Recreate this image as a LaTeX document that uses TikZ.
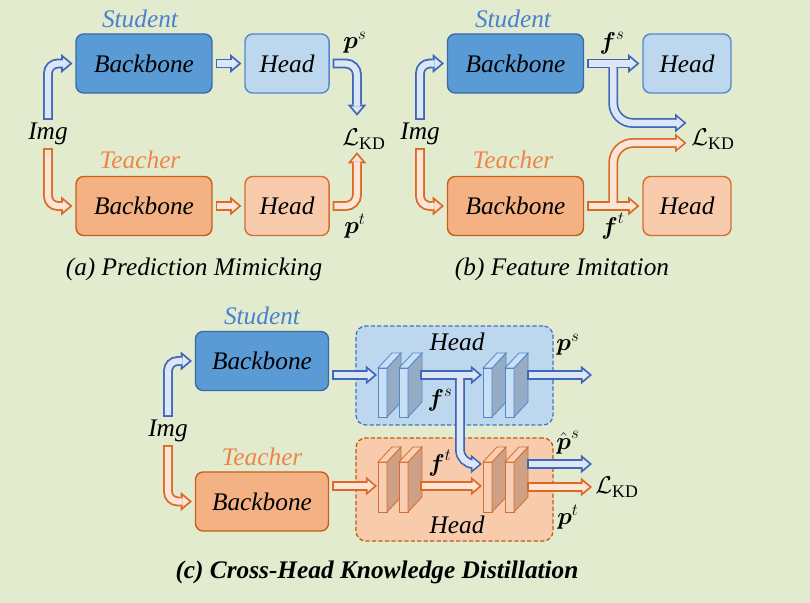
\documentclass[tikz,border=0pt]{standalone}
\usepackage{amsmath}
\usepackage{fontspec}
\setmainfont{Liberation Serif}
\usetikzlibrary{arrows.meta,calc,positioning}

\definecolor{bgcol}{RGB}{226,235,206}
\definecolor{sdark}{RGB}{91,155,213}
\definecolor{sdarkline}{RGB}{58,106,168}
\definecolor{slight}{RGB}{189,215,238}
\definecolor{slightline}{RGB}{84,136,204}
\definecolor{stext}{RGB}{74,128,208}
\definecolor{sarrline}{RGB}{62,104,186}
\definecolor{sarrfill}{RGB}{220,230,246}
\definecolor{sfront}{RGB}{200,224,245}
\definecolor{sside}{RGB}{150,172,196}
\definecolor{sdash}{RGB}{68,114,196}
\definecolor{tdark}{RGB}{244,177,131}
\definecolor{tdarkline}{RGB}{200,94,26}
\definecolor{tlight}{RGB}{248,203,173}
\definecolor{tlightline}{RGB}{214,110,45}
\definecolor{ttext}{RGB}{240,132,72}
\definecolor{tarrline}{RGB}{218,106,38}
\definecolor{tarrfill}{RGB}{252,229,214}
\definecolor{tfront}{RGB}{250,206,178}
\definecolor{tside}{RGB}{206,160,134}
\definecolor{tdash}{RGB}{197,90,17}

\begin{document}
\begin{tikzpicture}[x=0.025cm,y=-0.025cm,
    font=\fontsize{18}{21}\selectfont\itshape,
    every node/.style={inner sep=2pt},
    box/.style={rounded corners=5.5pt,line width=1pt,outer sep=2.5pt,minimum height=42pt},
    sbb/.style={box,fill=sdark,draw=sdarkline,minimum width=96.7pt},
    shd/.style={box,fill=slight,draw=slightline,minimum width=59.8pt},
    tbb/.style={box,fill=tdark,draw=tdarkline,minimum width=96.7pt},
    thd/.style={box,fill=tlight,draw=tlightline,minimum width=59.8pt},
    hbox/.style={rounded corners=7pt,line width=0.9pt,dash pattern=on 3pt off 1.6pt,minimum width=140.1pt},
    sname/.style={text=stext},
    tname/.style={text=ttext},
    sinner/.style={draw=sarrfill,line width=4.4pt,shorten >=2pt,shorten <=1.3pt,
        -{Triangle[length=4.7pt,width=7.9pt,line width=0pt]}},
    sarrow/.style={preaction={draw=sarrline,line width=7pt,shorten >=0pt,shorten <=0pt,
        -{Triangle[length=8pt,width=13.5pt,line width=0pt]}},sinner},
    tinner/.style={draw=tarrfill,line width=4.4pt,shorten >=2pt,shorten <=1.3pt,
        -{Triangle[length=4.7pt,width=7.9pt,line width=0pt]}},
    tarrow/.style={preaction={draw=tarrline,line width=7pt,shorten >=0pt,shorten <=0pt,
        -{Triangle[length=8pt,width=13.5pt,line width=0pt]}},tinner}]

    \fill[bgcol] (0,0) rectangle (810,603);
    \useasboundingbox (0,0) rectangle (810,603);

    % (a) prediction mimicking
    \node[sname] (stuA) at (140,19) {Student};
    \node[tname] (teaA) at (140,160) {Teacher};
    \node[sbb] (sbbA) at (144,63.5) {Backbone};
    \node[shd] (shdA) at (287,63.5) {Head};
    \node[tbb] (tbbA) at (144,206) {Backbone};
    \node[thd] (thdA) at (287,206) {Head};
    \node (imgA) at (48,134) {Img};
    \node (kdA) at (364,139) {$\mathcal{L}_{\mathrm{KD}}$};
    \node (psA) at (355,43) {$\boldsymbol{p}^{s}$};
    \node (ptA) at (355,226) {$\boldsymbol{p}^{t}$};
    \node (capA) at (194,269) {(a) Prediction Mimicking};

    \draw[sarrow,rounded corners=7pt] (imgA.north) |- (sbbA.west);
    \draw[tarrow,rounded corners=7pt] (imgA.south) |- (tbbA.west);
    \draw[sarrow] (sbbA) -- (shdA);
    \draw[tarrow] (tbbA) -- (thdA);
    \draw[sarrow,rounded corners=8pt] (shdA.east) -| ($(kdA.north)+(-7,-10)$);
    \draw[tarrow,rounded corners=8pt] (thdA.east) -| ($(kdA.south)+(-7,0)$);

    % (b) feature imitation
    \node[sname] (stuB) at (513,19) {Student};
    \node[tname] (teaB) at (513,160) {Teacher};
    \node[sbb] (sbbB) at (515.5,63.5) {Backbone};
    \node[shd,minimum width=62.6pt] (shdB) at (687,63.5) {Head};
    \node[tbb] (tbbB) at (515.5,206) {Backbone};
    \node[thd,minimum width=62.6pt] (thdB) at (687,206) {Head};
    \node (imgB) at (420,134) {Img};
    \node (kdB) at (713,139) {$\mathcal{L}_{\mathrm{KD}}$};
    \node (fsB) at (612,43) {$\boldsymbol{f}^{s}$};
    \node (ftB) at (613,226) {$\boldsymbol{f}^{t}$};
    \node (capB) at (562,269) {(b) Feature Imitation};
    \coordinate (brsB) at ($(sbbB.east)!0.5!(shdB.west)$);
    \coordinate (brtB) at ($(tbbB.east)!0.5!(thdB.west)$);

    \draw[sarrow,rounded corners=7pt] (imgB.north) |- (sbbB.west);
    \draw[tarrow,rounded corners=7pt] (imgB.south) |- (tbbB.west);
    \draw[sarrow,rounded corners=14pt] (brsB) |- ($(kdB.west)+(-2,-16)$);
    \draw[sarrow] (sbbB) -- (shdB);
    \draw[sinner,rounded corners=14pt] (brsB) |- ($(kdB.west)+(-2,-16)$);
    \draw[tarrow,rounded corners=14pt] (brtB) |- ($(kdB.west)+(-2,4)$);
    \draw[tarrow] (tbbB) -- (thdB);
    \draw[tinner,rounded corners=14pt] (brtB) |- ($(kdB.west)+(-2,4)$);

    % (c) cross-head knowledge distillation
    \node[sname] (stuC) at (262,316) {Student};
    \node[tname] (teaC) at (262,457) {Teacher};
    \node[sbb,minimum width=94.6pt] (sbbC) at (262,361) {Backbone};
    \node[tbb,minimum width=94.6pt] (tbbC) at (262,501.5) {Backbone};
    \node (imgC) at (168,431) {Img};
    \node[hbox,fill=slight,draw=sdash,minimum height=70.4pt] (shC) at (454.5,375.5) {};
    \node[hbox,fill=tlight,draw=tdash,minimum height=73.3pt] (thC) at (454.5,489.5) {};
    \node (hdsC) at (457,342) {Head};
    \node (hdtC) at (457,525) {Head};

    \foreach \a in {378,399,483,505}{
        \filldraw[draw=slightline,fill=sfront,line width=0.6pt] (\a,368) rectangle ++(9,49);
        \filldraw[draw=slightline,fill=sside,line width=0.6pt] (\a+9,368) -- ++(14,-15) -- ++(0,49) -- ++(-14,15) -- cycle;
        \filldraw[draw=slightline,fill=sfront,line width=0.6pt] (\a,368) -- ++(14,-15) -- ++(9,0) -- ++(-14,15) -- cycle;
    }
    \foreach \a in {378,399,483,505}{
        \filldraw[draw=tlightline,fill=tfront,line width=0.6pt] (\a,462) rectangle ++(9,50);
        \filldraw[draw=tlightline,fill=tside,line width=0.6pt] (\a+9,462) -- ++(14,-15) -- ++(0,50) -- ++(-14,15) -- cycle;
        \filldraw[draw=tlightline,fill=tfront,line width=0.6pt] (\a,462) -- ++(14,-15) -- ++(9,0) -- ++(-14,15) -- cycle;
    }

    \coordinate (s1) at (377,375);
    \coordinate (s2) at (420,375);
    \coordinate (s3) at (482,375);
    \coordinate (s4) at (527,375);
    \coordinate (sO) at (592,375);
    \coordinate (brsC) at (460,375);
    \coordinate (s3b) at (482,464);
    \coordinate (s4b) at (527,464);
    \coordinate (sOb) at (592,464);
    \coordinate (t1) at (377,486);
    \coordinate (t2) at (420,486);
    \coordinate (t3) at (482,486);
    \coordinate (t4) at (527,487);
    \coordinate (tO) at (592,487);

    \draw[sarrow,rounded corners=7pt] (imgC.north) |- (sbbC.west);
    \draw[tarrow,rounded corners=7pt] (imgC.south) |- (tbbC.west);
    \draw[sarrow] (sbbC.east |- s1) -- (s1);
    \draw[tarrow] (tbbC.east |- t1) -- (t1);
    \draw[tarrow] (t2) -- (t3);
    \draw[sarrow,rounded corners=10pt] (brsC) |- (s3b);
    \draw[sarrow] (s2) -- (s3);
    \draw[sinner,rounded corners=10pt] (brsC) |- (s3b);
    \draw[sarrow] (s4) -- (sO);
    \draw[sarrow] (s4b) -- (sOb);
    \draw[tarrow] (t4) -- (tO);

    \node (fsC) at (440,400) {$\boldsymbol{f}^{s}$};
    \node (ftC) at (440,463) {$\boldsymbol{f}^{t}$};
    \node (psC) at (568,345) {$\boldsymbol{p}^{s}$};
    \node (phC) at (568,443) {$\hat{\boldsymbol{p}}^{s}$};
    \node (ptC) at (568,517) {$\boldsymbol{p}^{t}$};
    \node (kdC) at (617,487) {$\mathcal{L}_{\mathrm{KD}}$};
    \node[font=\fontsize{18}{21}\selectfont\bfseries\itshape] (capC) at (377,572) {(c) Cross-Head Knowledge Distillation};
\end{tikzpicture}
\end{document}
